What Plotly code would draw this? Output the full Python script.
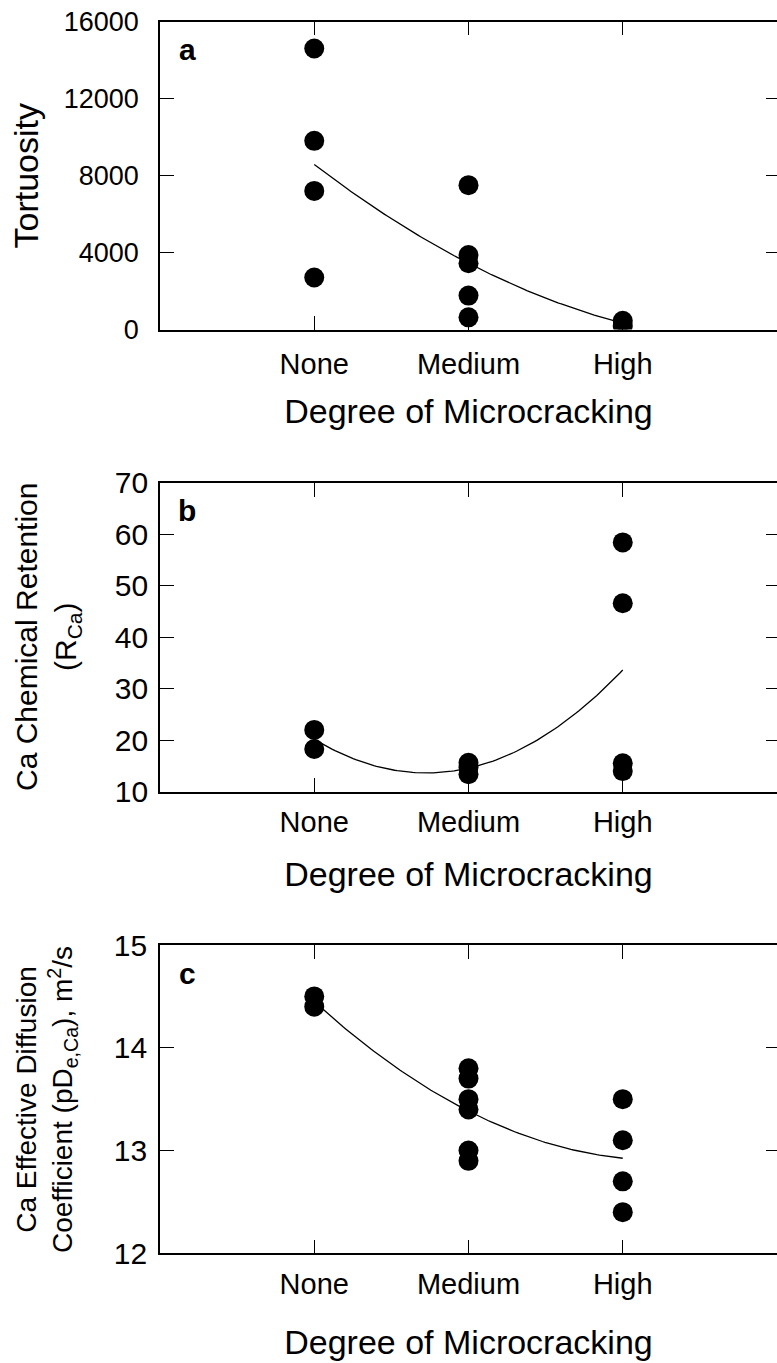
import numpy as np
import plotly.graph_objects as go

# ---- data -------------------------------------------------------------
categories = ["None", "Medium", "High"]
cat_pos = [1, 2, 3]

tort_none = [14600, 9800, 7200, 2700]
tort_medium = [7500, 3870, 3440, 1760, 630]
tort_high = [450, 200]

ret_none = [22.0, 18.3]
ret_medium = [15.6, 14.7, 13.4]
ret_high = [58.4, 46.6, 15.5, 14.0]

diff_none = [14.5, 14.4]
diff_medium = [13.8, 13.7, 13.5, 13.4, 13.0, 12.9]
diff_high = [13.5, 13.1, 12.7, 12.4]

tort_ticks = [0, 4000, 8000, 12000, 16000]
ret_ticks = [10, 20, 30, 40, 50, 60, 70]
diff_ticks = [12, 13, 14, 15]

# ---- page geometry (pixels) --------------------------------------------
W, H = 777, 1363
LEFT = 160


def fy(px):
    return 1 - px / H


def fx(px):
    return px / W


panels = [
    dict(groups=[tort_none, tort_medium, tort_high], rng=[0, 16000], ticks=tort_ticks,
         top=21.5, bottom=329.5, letter="a", tickfont=27,
         ystand=14, xstand=8, tstand=20),
    dict(groups=[ret_none, ret_medium, ret_high], rng=[10, 70], ticks=ret_ticks,
         top=482.7, bottom=791.7, letter="b", tickfont=30,
         ystand=4, xstand=4, tstand=25),
    dict(groups=[diff_none, diff_medium, diff_high], rng=[12, 15], ticks=diff_ticks,
         top=945, bottom=1253.3, letter="c", tickfont=30,
         ystand=5, xstand=4, tstand=31),
]

FONT = "Arial, Liberation Sans, Helvetica, sans-serif"

fig = go.Figure()
layout = dict(
    template="none",
    width=W, height=H, margin=dict(l=0, r=0, t=0, b=0, autoexpand=False),
    paper_bgcolor="white", plot_bgcolor="white", showlegend=False,
    font=dict(family=FONT, color="black"),
)
annotations = []

for i, p in enumerate(panels):
    n = i + 1
    xa = "x" if n == 1 else f"x{n}"
    ya = "y" if n == 1 else f"y{n}"
    yr = f"y{n + 3}"

    xs, ys = [], []
    for pos, vals in zip(cat_pos, p["groups"]):
        xs += [pos] * len(vals)
        ys += list(vals)

    fig.add_trace(go.Scatter(
        x=xs, y=ys, mode="markers", xaxis=xa, yaxis=ya,
        marker=dict(size=20, color="black", line=dict(width=0)),
        hoverinfo="skip"))

    # second-order polynomial fit across the three cracking levels
    coef = np.polyfit(xs, ys, 2)
    xf = np.linspace(1, 3, 120)
    fig.add_trace(go.Scatter(
        x=xf, y=np.polyval(coef, xf), mode="lines", xaxis=xa, yaxis=ya,
        line=dict(color="black", width=1.3), hoverinfo="skip"))

    # empty trace so the right-hand tick axis gets drawn
    fig.add_trace(go.Scatter(x=[], y=[], xaxis=xa, yaxis=yr, hoverinfo="skip"))

    ydom = [fy(p["bottom"]), fy(p["top"])]
    xkey = "xaxis" if n == 1 else f"xaxis{n}"
    ykey = "yaxis" if n == 1 else f"yaxis{n}"

    layout[xkey] = dict(
        domain=[fx(LEFT), 1], range=[0, 4], anchor=ya, automargin=False,
        tickmode="array", tickvals=cat_pos, ticktext=categories,
        ticks="inside", ticklen=14, tickwidth=1.3, tickcolor="black",
        showline=True, linecolor="black", linewidth=1.6, mirror="ticks",
        showgrid=False, zeroline=False,
        tickfont=dict(size=29, family=FONT, color="black"),
        ticklabelstandoff=p["xstand"],
        title=dict(text="Degree of Microcracking",
                   font=dict(size=34, family=FONT, color="black"),
                   standoff=p["tstand"]),
    )
    layout[ykey] = dict(
        domain=ydom, range=p["rng"], anchor=xa, automargin=False,
        tickmode="array", tickvals=p["ticks"], tickformat="d",
        ticks="inside", ticklen=14, tickwidth=1.3, tickcolor="black",
        showline=True, linecolor="black", linewidth=1.6, mirror=False,
        showgrid=False, zeroline=False,
        tickfont=dict(size=p["tickfont"], family=FONT, color="black"),
        ticklabelstandoff=p["ystand"],
    )
    layout[f"yaxis{n + 3}"] = dict(
        overlaying=ya, anchor=xa, side="right", range=p["rng"], automargin=False,
        tickmode="array", tickvals=p["ticks"], showticklabels=False,
        ticks="inside", ticklen=11, tickwidth=1.3, tickcolor="black",
        showline=False, showgrid=False, zeroline=False,
    )

    annotations.append(dict(
        text=f"<b>{p['letter']}</b>", xref="paper", yref="paper",
        x=fx(187), y=fy(p["top"] + 28), xanchor="center", yanchor="middle",
        showarrow=False, font=dict(size=30, family=FONT, color="black")))

# vertical axis titles
annotations.append(dict(
    text="Tortuosity", textangle=-90, xref="paper", yref="paper",
    x=fx(25), y=fy(175.5), xanchor="center", yanchor="middle", showarrow=False,
    font=dict(size=34, family=FONT, color="black")))
annotations.append(dict(
    text="Ca Chemical Retention<br>(R<sub>Ca</sub>)", textangle=-90,
    xref="paper", yref="paper", x=fx(48), y=fy(637), xanchor="center",
    yanchor="middle", showarrow=False,
    font=dict(size=30, family=FONT, color="black")))
annotations.append(dict(
    text="Ca Effective Diffusion<br>Coefficient (pD<sub>e,Ca</sub>), m<sup>2</sup>/s",
    textangle=-90, xref="paper", yref="paper", x=fx(46), y=fy(1100),
    xanchor="center", yanchor="middle", showarrow=False,
    font=dict(size=28, family=FONT, color="black")))

layout["annotations"] = annotations
fig.update_layout(**layout)
fig.write_html("out.html")
